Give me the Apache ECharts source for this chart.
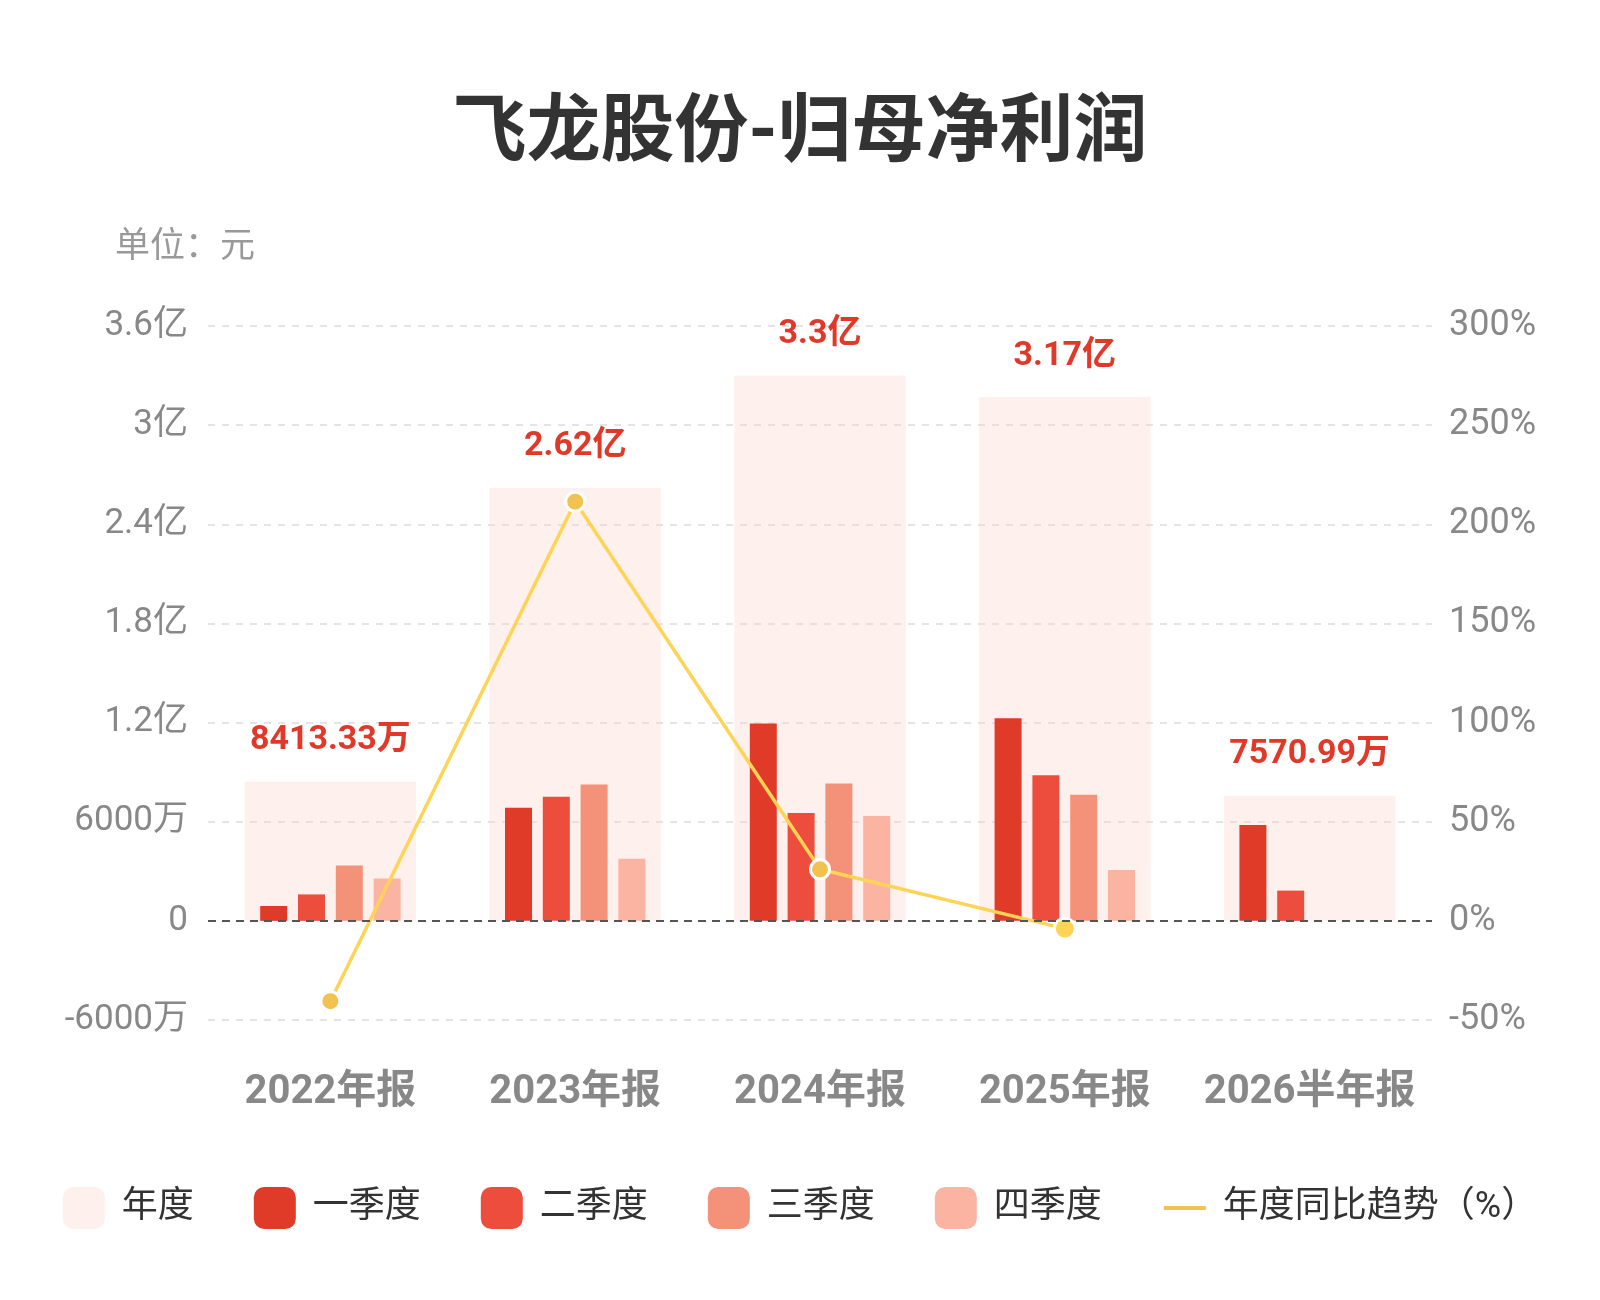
<!DOCTYPE html>
<html>
<head>
<meta charset="utf-8">
<title>飞龙股份-归母净利润</title>
<script src="https://cdn.jsdelivr.net/npm/echarts@6/dist/echarts.min.js"></script>
<style>
  html, body { margin: 0; padding: 0; background: #fff; }
  #main { width: 1600px; height: 1300px; }
</style>
</head>
<body>
<div id="main"></div>
<script>
// 类目
var categories = ['2022年报', '2023年报', '2024年报', '2025年报', '2026半年报'];
// 年度归母净利润(元)
var annual = [84133300, 262000000, 330000000, 317000000, 75709900];
// 单季度(元)
var q1 = [9000000, 68400000, 119500000, 122600000, 58000000];
var q2 = [16000000, 75150000, 65300000, 88090000, 18300000];
var q3 = [33500000, 82540000, 83160000, 76380000, null];
var q4 = [25600000, 37570000, 63450000, 30800000, null];
// 年度同比(%)
var yoy = [-40.5, 211.4, 26.0, -3.9, null];
// 刻度标签
var leftTicks = ['-6000万', '0', '6000万', '1.2亿', '1.8亿', '2.4亿', '3亿', '3.6亿'];
var rightTicks = ['-50%', '0%', '50%', '100%', '150%', '200%', '250%', '300%'];

var font = 'Roboto, "Noto Sans CJK SC", sans-serif';

function fmtAnnual(v) {
  if (Math.abs(v) >= 1e8) {
    return parseFloat((v / 1e8).toFixed(2)) + '亿';
  }
  return (v / 1e4).toFixed(2) + '万';
}

var chart = echarts.init(document.getElementById('main'));

var quarterBar = function (name, color, data) {
  return {
    name: name,
    type: 'bar',
    xAxisIndex: 0,
    yAxisIndex: 0,
    barWidth: 27,
    barGap: '40%',
    itemStyle: { color: color },
    data: data
  };
};

var option = {
  backgroundColor: '#fff',
  textStyle: { fontFamily: font },
  title: [
    {
      text: '飞龙股份-归母净利润',
      left: 'center',
      top: 95,
      textStyle: { fontSize: 74, fontWeight: 'bold', color: '#333', fontFamily: font }
    },
    {
      text: '单位：元',
      left: 110,
      top: 226,
      textStyle: { fontSize: 35, fontWeight: 'normal', color: '#999', fontFamily: font }
    }
  ],
  legend: {
    top: 1182,
    left: 'center',
    itemWidth: 42,
    itemHeight: 42,
    itemGap: 60,
    textStyle: { fontSize: 36, color: '#333', padding: [0, 0, 0, 12], fontFamily: font },
    data: [
      { name: '年度', icon: 'roundRect' },
      { name: '一季度', icon: 'roundRect' },
      { name: '二季度', icon: 'roundRect' },
      { name: '三季度', icon: 'roundRect' },
      { name: '四季度', icon: 'roundRect' },
      { name: '年度同比趋势（%）', itemStyle: { opacity: 0 }, lineStyle: { width: 4 } }
    ]
  },
  grid: { left: 208, right: 168, top: 326, bottom: 280 },
  xAxis: [
    {
      type: 'category',
      data: categories,
      axisLine: { show: false },
      axisTick: { show: false },
      axisLabel: { interval: 0, margin: 53, fontSize: 40, fontWeight: 'bold', color: '#888', fontFamily: font }
    },
    {
      type: 'category',
      data: categories,
      show: false
    }
  ],
  yAxis: [
    {
      type: 'value',
      min: -60000000,
      max: 360000000,
      interval: 60000000,
      axisLine: { show: false },
      axisTick: { show: false },
      axisLabel: {
        margin: 20, fontSize: 35, color: '#888', fontFamily: font,
        formatter: function (v, i) { return leftTicks[i]; }
      },
      splitLine: { lineStyle: { type: [7, 7], color: '#dcdcdc', width: 1.5 } }
    },
    {
      type: 'value',
      min: -50,
      max: 300,
      interval: 50,
      axisLine: { show: false },
      axisTick: { show: false },
      axisLabel: {
        margin: 17, fontSize: 36, color: '#888', fontFamily: font,
        formatter: function (v, i) { return rightTicks[i]; }
      },
      splitLine: { show: false }
    }
  ],
  series: [
    {
      name: '年度',
      type: 'bar',
      xAxisIndex: 1,
      yAxisIndex: 0,
      barWidth: '70%',
      itemStyle: { color: 'rgba(252, 213, 200, 0.35)' },
      label: {
        show: true,
        position: 'top',
        distance: 24,
        fontSize: 34,
        fontWeight: 'bold',
        color: '#e0392a',
        fontFamily: font,
        formatter: function (p) { return fmtAnnual(p.value); }
      },
      data: annual
    },
    quarterBar('一季度', '#e03a28', q1),
    quarterBar('二季度', '#ec4d3d', q2),
    quarterBar('三季度', '#f39179', q3),
    quarterBar('四季度', '#fcb4a2', q4),
    {
      name: '年度同比趋势（%）',
      type: 'line',
      xAxisIndex: 0,
      yAxisIndex: 1,
      symbol: 'circle',
      symbolSize: 19,
      lineStyle: { color: '#f3c14f', width: 3.5 },
      itemStyle: { color: '#f3c14f', borderColor: '#fff', borderWidth: 3 },
      markLine: {
        silent: true,
        symbol: 'none',
        label: { show: false },
        lineStyle: { color: '#555', type: [8, 6], width: 2 },
        data: [{ yAxis: 0 }]
      },
      data: yoy
    }
  ]
};

chart.setOption(option);
</script>
</body>
</html>
